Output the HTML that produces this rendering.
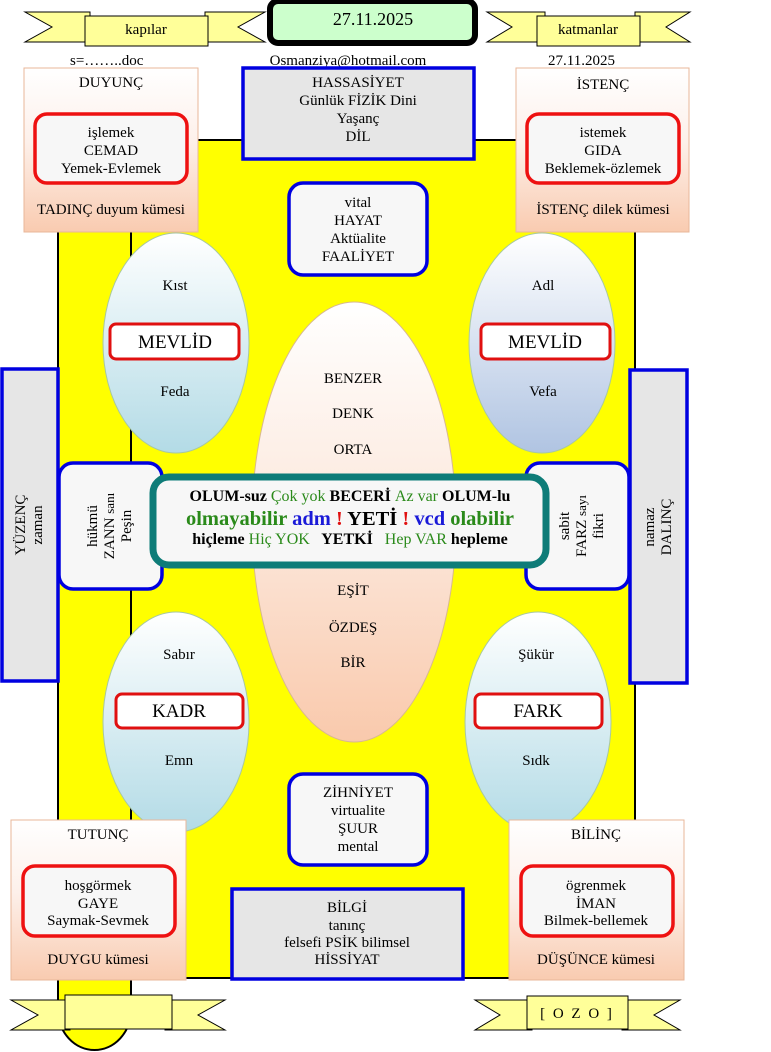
<!DOCTYPE html>
<html><head><meta charset="utf-8"><style>
html,body{margin:0;padding:0;background:#fff;}
svg{display:block;}
text{font-family:"Liberation Serif",serif;}
</style></head><body>
<svg width="771" height="1052" viewBox="0 0 771 1052" xmlns="http://www.w3.org/2000/svg">
<defs>
<linearGradient id="peach" x1="0" y1="0" x2="0" y2="1"><stop offset="0" stop-color="#ffffff"/><stop offset="0.45" stop-color="#fdf0ea"/><stop offset="1" stop-color="#f9cbb0"/></linearGradient>
<linearGradient id="blue" x1="0" y1="0" x2="0" y2="1"><stop offset="0" stop-color="#ffffff"/><stop offset="1" stop-color="#b3dbe6"/></linearGradient>
<linearGradient id="blue2" x1="0" y1="0" x2="0" y2="1"><stop offset="0" stop-color="#ffffff"/><stop offset="1" stop-color="#b0c4e2"/></linearGradient>
<linearGradient id="cen" x1="0" y1="0" x2="0" y2="1"><stop offset="0" stop-color="#ffffff"/><stop offset="0.5" stop-color="#fce8dc"/><stop offset="1" stop-color="#f9c9ac"/></linearGradient>
</defs>

<path d="M58,970 L58,1010 A36.5,40 0 0 0 131,1010 L131,970 Z" fill="#ffff00" stroke="#000" stroke-width="2"/>
<rect x="58" y="140" width="577" height="838" fill="#ffff00" stroke="#000" stroke-width="2"/>
<line x1="131" y1="232" x2="131" y2="978" stroke="#000" stroke-width="2"/>

<g stroke="#000" stroke-width="1" fill="#ffff99">
<polygon points="25,12 90,12 90,42 25,42 52,27"/>
<polygon points="265,12 205,12 205,42 265,42 238,27"/>
<rect x="85" y="16" width="123" height="30"/>
<polygon points="487,12 545,12 545,42 487,42 512,27"/>
<polygon points="690,12 635,12 635,42 690,42 666,27"/>
<rect x="537" y="16" width="103" height="30"/>
</g>
<text x="146" y="34" font-size="15" text-anchor="middle">kapılar</text>
<text x="588" y="34" font-size="15" text-anchor="middle">katmanlar</text>
<rect x="270" y="1" width="205" height="42" rx="8" fill="#ccffcc" stroke="#000" stroke-width="6"/>
<text x="373" y="25" font-size="18" text-anchor="middle">27.11.2025</text>
<text x="70" y="65" font-size="15">s=……..doc</text>
<text x="348" y="65" font-size="15" text-anchor="middle">Osmanziya@hotmail.com</text>
<text x="548" y="65" font-size="15">27.11.2025</text>

<rect x="24" y="68" width="174" height="164" fill="url(#peach)" stroke="#e8b79a" stroke-width="1"/>
<rect x="35" y="114" width="152" height="69" rx="12" fill="#f7f7f7" stroke="#ee1111" stroke-width="3.5"/>
<text font-size="15" text-anchor="middle"><tspan x="111" y="87">DUYUNÇ</tspan><tspan x="111" y="137">işlemek</tspan><tspan x="111" y="155">CEMAD</tspan><tspan x="111" y="173">Yemek-Evlemek</tspan><tspan x="111" y="214">TADINÇ duyum kümesi</tspan></text>

<rect x="516" y="68" width="173" height="164" fill="url(#peach)" stroke="#e8b79a" stroke-width="1"/>
<rect x="527" y="114" width="152" height="69" rx="12" fill="#f7f7f7" stroke="#ee1111" stroke-width="3.5"/>
<text font-size="15" text-anchor="middle"><tspan x="603" y="89">İSTENÇ</tspan><tspan x="603" y="137">istemek</tspan><tspan x="603" y="155">GIDA</tspan><tspan x="603" y="173">Beklemek-özlemek</tspan><tspan x="603" y="214">İSTENÇ dilek kümesi</tspan></text>

<rect x="243" y="68" width="231" height="91" fill="#e6e6e6" stroke="#0000e0" stroke-width="3.5"/>
<text font-size="15" text-anchor="middle"><tspan x="358" y="87">HASSASİYET</tspan><tspan x="358" y="105">Günlük FİZİK Dini</tspan><tspan x="358" y="123">Yaşanç</tspan><tspan x="358" y="141">DİL</tspan></text>

<rect x="289" y="183" width="138" height="92" rx="14" fill="#f7f7f7" stroke="#0000e0" stroke-width="3.5"/>
<text font-size="15" text-anchor="middle"><tspan x="358" y="207">vital</tspan><tspan x="358" y="225">HAYAT</tspan><tspan x="358" y="243">Aktüalite</tspan><tspan x="358" y="261">FAALİYET</tspan></text>

<ellipse cx="176" cy="343" rx="73" ry="110" fill="url(#blue)" stroke="#a8c8a0" stroke-width="1"/>
<ellipse cx="542" cy="343" rx="73" ry="110" fill="url(#blue2)" stroke="#a8c8a0" stroke-width="1"/>
<ellipse cx="176" cy="722" rx="73" ry="110" fill="url(#blue)" stroke="#a8c8a0" stroke-width="1"/>
<ellipse cx="538" cy="722" rx="73" ry="110" fill="url(#blue)" stroke="#a8c8a0" stroke-width="1"/>
<ellipse cx="354" cy="522" rx="102" ry="220" fill="url(#cen)" stroke="#d8b890" stroke-width="1"/>

<g fill="#fff" stroke="#e01010" stroke-width="3">
<rect x="110" y="324" width="129" height="35" rx="6"/>
<rect x="481" y="324" width="129" height="35" rx="6"/>
<rect x="116" y="694" width="127" height="34" rx="6"/>
<rect x="475" y="694" width="127" height="34" rx="6"/>
</g>
<g font-size="15" text-anchor="middle">
<text x="175" y="290">Kıst</text><text x="175" y="396">Feda</text>
<text x="543" y="290">Adl</text><text x="543" y="396">Vefa</text>
<text x="179" y="659">Sabır</text><text x="179" y="765">Emn</text>
<text x="536" y="659">Şükür</text><text x="536" y="765">Sıdk</text>
<text x="353" y="383">BENZER</text><text x="353" y="418">DENK</text><text x="353" y="454">ORTA</text>
<text x="353" y="595">EŞİT</text><text x="353" y="632">ÖZDEŞ</text><text x="353" y="667">BİR</text>
</g>
<g font-size="19" text-anchor="middle">
<text x="175" y="348">MEVLİD</text><text x="545" y="348">MEVLİD</text>
<text x="179" y="717">KADR</text><text x="538" y="717">FARK</text>
</g>

<rect x="2" y="369" width="56" height="312" fill="#e6e6e6" stroke="#0000e0" stroke-width="3.5"/>
<text font-size="15" text-anchor="middle" transform="translate(29,525) rotate(-90)"><tspan x="0" y="-4">YÜZENÇ</tspan><tspan x="0" y="13">zaman</tspan></text>
<rect x="630" y="370" width="57" height="313" fill="#e6e6e6" stroke="#0000e0" stroke-width="3.5"/>
<text font-size="15" text-anchor="middle" transform="translate(658,527) rotate(-90)"><tspan x="0" y="-4">namaz</tspan><tspan x="0" y="13">DALINÇ</tspan></text>

<rect x="59" y="463" width="103" height="126" rx="14" fill="#f7f7f7" stroke="#0000e0" stroke-width="3.5"/>
<text font-size="15" text-anchor="middle" transform="translate(110,526) rotate(-90)"><tspan x="0" y="-13">hükmü</tspan><tspan x="0" y="4">ZANN <tspan font-size="13">sanı</tspan></tspan><tspan x="0" y="21">Peşin</tspan></text>
<rect x="526" y="463" width="103" height="126" rx="14" fill="#f7f7f7" stroke="#0000e0" stroke-width="3.5"/>
<text font-size="15" text-anchor="middle" transform="translate(582,526) rotate(-90)"><tspan x="0" y="-13">sabit</tspan><tspan x="0" y="4">FARZ <tspan font-size="13">sayı</tspan></tspan><tspan x="0" y="21">fikri</tspan></text>

<rect x="153" y="477" width="393" height="88" rx="16" fill="#f7f7f7" stroke="#0e7c78" stroke-width="7"/>
<text font-size="16" text-anchor="middle" font-weight="bold" x="350" y="501"><tspan>OLUM-suz </tspan><tspan fill="#2a8a1a" font-weight="normal"> Çok yok </tspan><tspan> BECERİ </tspan><tspan fill="#2a8a1a" font-weight="normal"> Az var </tspan><tspan>OLUM-lu</tspan></text>
<text font-size="20.5" text-anchor="middle" font-weight="bold" x="350" y="525"><tspan fill="#2a8a1a">olmayabilir </tspan><tspan fill="#1a1ad8">adm </tspan><tspan fill="#e01010">! </tspan><tspan fill="#000">YETİ </tspan><tspan fill="#e01010">! </tspan><tspan fill="#1a1ad8">vcd </tspan><tspan fill="#2a8a1a">olabilir</tspan></text>
<text font-size="16" text-anchor="middle" font-weight="bold" x="350" y="544" xml:space="preserve"><tspan>hiçleme </tspan><tspan fill="#2a8a1a" font-weight="normal">Hiç YOK </tspan><tspan>  YETKİ </tspan><tspan fill="#2a8a1a" font-weight="normal">  Hep VAR </tspan><tspan>hepleme</tspan></text>

<rect x="289" y="774" width="138" height="91" rx="14" fill="#f7f7f7" stroke="#0000e0" stroke-width="3.5"/>
<text font-size="15" text-anchor="middle"><tspan x="358" y="797">ZİHNİYET</tspan><tspan x="358" y="815">virtualite</tspan><tspan x="358" y="833">ŞUUR</tspan><tspan x="358" y="851">mental</tspan></text>

<rect x="11" y="820" width="175" height="160" fill="url(#peach)" stroke="#e8b79a" stroke-width="1"/>
<rect x="23" y="866" width="152" height="70" rx="12" fill="#f7f7f7" stroke="#ee1111" stroke-width="3.5"/>
<text font-size="15" text-anchor="middle"><tspan x="98" y="839">TUTUNÇ</tspan><tspan x="98" y="890">hoşgörmek</tspan><tspan x="98" y="908">GAYE</tspan><tspan x="98" y="925">Saymak-Sevmek</tspan><tspan x="98" y="964">DUYGU kümesi</tspan></text>

<rect x="509" y="820" width="175" height="160" fill="url(#peach)" stroke="#e8b79a" stroke-width="1"/>
<rect x="521" y="866" width="152" height="70" rx="12" fill="#f7f7f7" stroke="#ee1111" stroke-width="3.5"/>
<text font-size="15" text-anchor="middle"><tspan x="596" y="839">BİLİNÇ</tspan><tspan x="596" y="890">ögrenmek</tspan><tspan x="596" y="908">İMAN</tspan><tspan x="596" y="925">Bilmek-bellemek</tspan><tspan x="596" y="964">DÜŞÜNCE kümesi</tspan></text>

<rect x="232" y="889" width="231" height="90" fill="#e6e6e6" stroke="#0000e0" stroke-width="3.5"/>
<text font-size="15" text-anchor="middle"><tspan x="347" y="912">BİLGİ</tspan><tspan x="347" y="930">tanınç</tspan><tspan x="347" y="947">felsefi PSİK bilimsel</tspan><tspan x="347" y="964">HİSSİYAT</tspan></text>

<g stroke="#000" stroke-width="1" fill="#ffff99">
<polygon points="11,1000 70,1000 70,1030 11,1030 38,1015"/>
<polygon points="225,1000 165,1000 165,1030 225,1030 198,1015"/>
<rect x="65" y="995" width="107" height="34"/>
<polygon points="475,1000 532,1000 532,1030 475,1030 500,1015"/>
<polygon points="680,1000 622,1000 622,1030 680,1030 654,1015"/>
<rect x="527" y="996" width="101" height="33"/>
</g>
<text x="577" y="1018" font-size="15" text-anchor="middle" letter-spacing="2">[ O Z O ]</text>
</svg>
</body></html>
